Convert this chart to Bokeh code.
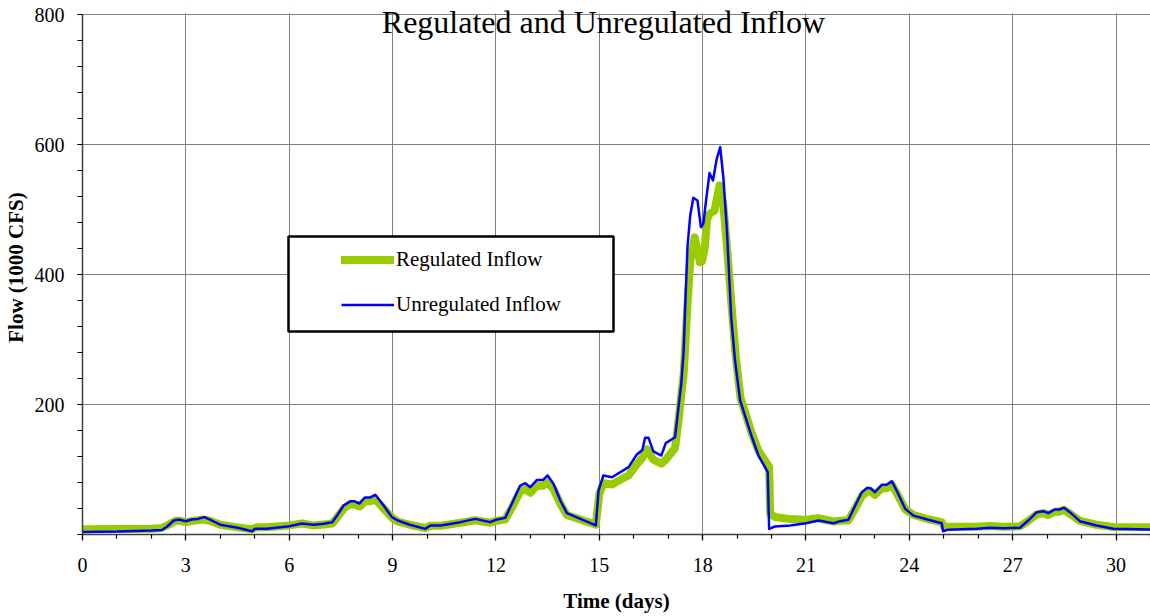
from bokeh.plotting import figure
from bokeh.models import (ColumnDataSource, Range1d, FixedTicker, Legend, LegendItem,
                          BoxAnnotation, Label)
from bokeh.embed import file_html
from bokeh.resources import INLINE

# ---- data (days, 1000 CFS) ----
reg_days = [0.0, 1.0, 2.0, 2.3, 2.5, 2.7, 2.85, 3.0, 3.2, 3.5, 3.7, 4.0, 4.5, 4.92, 5.05, 5.35,
            6.0, 6.37, 6.7, 7.0, 7.25, 7.4, 7.6, 7.77, 7.9, 8.04, 8.2, 8.35, 8.5, 8.74, 9.0,
            9.15, 9.5, 9.95, 10.1, 10.4, 10.97, 11.4, 11.83, 12.0, 12.27, 12.46, 12.7, 12.85,
            13.0, 13.19, 13.37, 13.5, 13.67, 13.87, 14.06, 14.45, 14.9, 15.0, 15.12, 15.37,
            15.85, 16.09, 16.25, 16.38, 16.57, 16.8, 16.93, 17.2, 17.3, 17.38, 17.45, 17.55,
            17.64, 17.77, 17.92, 17.98, 18.06, 18.13, 18.2, 18.34, 18.49, 18.6, 18.7, 18.85,
            18.96, 19.1, 19.25, 19.43, 19.62, 19.93, 19.96, 20.1, 20.5, 21.0, 21.36, 21.8,
            22.0, 22.23, 22.43, 22.62, 22.78, 22.9, 23.0, 23.2, 23.34, 23.49, 23.63, 23.88,
            24.12, 24.55, 24.94, 25.0, 25.96, 26.34, 26.73, 27.21, 27.45, 27.7, 27.89, 28.03,
            28.23, 28.35, 28.49, 28.66, 28.95, 29.43, 29.92, 31.0]
reg_flow = [8, 8.5, 9, 10, 15, 21, 21, 19, 21, 23, 21, 15, 11, 8, 11, 11,
            14, 17, 14, 15.5, 17, 27, 41, 46, 46, 43, 51, 51, 54, 40, 25,
            20, 15, 10, 13.5, 13.5, 18, 22, 18, 21, 23, 41, 66, 70,
            64, 75, 75, 80, 70, 47, 30, 23, 15, 62, 79, 77,
            91, 108, 118, 131, 115, 109, 115, 133, 175, 215, 247, 345,
            421, 457, 419, 420, 440, 485, 493, 498, 537, 508, 447, 345,
            275, 210, 185, 155, 129, 104, 32, 27, 24, 22.6, 25, 20,
            21, 22, 40, 59, 66, 66, 61, 71, 71, 77, 64, 39,
            30, 23.5, 19, 12.3, 12, 13, 12, 12.5, 21, 31, 33, 30,
            35, 35, 38, 32, 21, 15, 11.5, 11]

unreg_days = [0.0, 0.5, 1.0, 1.5, 2.0, 2.3, 2.45, 2.65, 2.8, 3.0, 3.17, 3.35, 3.54, 3.7, 4.0,
              4.5, 4.92, 5.0, 5.35, 6.0, 6.37, 6.7, 7.0, 7.25, 7.4, 7.58, 7.77, 7.9, 8.04,
              8.2, 8.35, 8.5, 8.74, 8.98, 9.15, 9.5, 9.95, 10.1, 10.4, 10.97, 11.4, 11.83,
              12.0, 12.27, 12.46, 12.7, 12.85, 13.0, 13.19, 13.37, 13.5, 13.67, 13.87, 14.06,
              14.45, 14.9, 14.98, 15.12, 15.37, 15.85, 16.09, 16.25, 16.33, 16.43, 16.57,
              16.8, 16.93, 17.2, 17.3, 17.38, 17.45, 17.49, 17.56, 17.64, 17.73, 17.85, 17.95,
              18.02, 18.1, 18.2, 18.3, 18.41, 18.51, 18.6, 18.7, 18.83, 18.94, 19.09, 19.23,
              19.43, 19.62, 19.89, 19.93, 20.1, 20.54, 21.0, 21.36, 21.8, 21.99, 22.23, 22.43,
              22.62, 22.78, 22.88, 23.0, 23.2, 23.34, 23.49, 23.63, 23.88, 24.12, 24.55, 24.94,
              24.98, 25.1, 25.96, 26.34, 26.73, 27.21, 27.45, 27.7, 27.89, 28.03, 28.23, 28.35,
              28.49, 28.66, 28.95, 29.43, 29.92, 31.0]
unreg_flow = [4, 4.3, 4.6, 5.5, 6, 7, 12, 21.5, 23, 20.5, 23, 24, 26.7, 23, 15,
              10.3, 5, 8.7, 9, 12.8, 17, 15, 16.4, 19, 30, 44.6, 51, 51, 47.7,
              57, 57, 61, 44.6, 26.7, 21.5, 15, 8.7, 13.8, 13.8, 19, 24, 19,
              22.6, 25.6, 47, 75, 79, 72.8, 84, 84, 90.8, 78, 52.3, 32.8,
              24, 14, 67.7, 90.8, 88, 103.6, 123, 130, 148.7, 148.7, 128,
              121.5, 140.5, 149.7, 196, 232, 283, 344.6, 442, 490.8, 518, 513.8, 472.8,
              478, 514, 556, 544.6, 578, 596, 550, 473, 334, 267.7, 206, 183,
              149.7, 121.5, 95.9, 8.7, 12.3, 13.8, 17.4, 21.5, 17.4, 20.5, 22.6, 44.6,
              65, 71.8, 71, 65, 76.4, 76.4, 82, 67.7, 39.5, 29, 22.6, 17.4,
              5, 7.2, 8.7, 10.3, 9.5, 10.3, 21.5, 34.4, 35.9, 32.8, 38.5, 38.5,
              41, 34.4, 20.5, 13.8, 8.7, 7.5]

x_major = [0, 3, 6, 9, 12, 15, 18, 21, 24, 27, 30]
x_minor = list(range(0, 32))
y_major = [0, 200, 400, 600, 800]
y_minor = list(range(0, 801, 40))
Y_MAX = 800

SERIF = "Liberation Serif"

# the frame reaches to the canvas top so that the title (which overlaps the
# top of the plot area in the reference) is not clipped; the area above 800 is masked
FRAME_H = 616 - 82
y_top = Y_MAX + 14 * Y_MAX / (FRAME_H - 14)

p = figure(width=1150, height=616, output_backend="svg", toolbar_location=None,
           x_range=Range1d(0, 31), y_range=Range1d(0, y_top),
           min_border_left=82, min_border_right=0, min_border_top=0, min_border_bottom=82)
p.outline_line_color = None
p.background_fill_color = "white"

reg_src = ColumnDataSource(dict(x=reg_days, y=reg_flow))
unreg_src = ColumnDataSource(dict(x=unreg_days, y=unreg_flow))

g = p.line("x", "y", source=reg_src, line_color="#99CC00", line_width=8,
           line_join="round", line_cap="round")
b = p.line("x", "y", source=unreg_src, line_color="#0000FF", line_width=2.5,
           line_join="round")

# axes
p.xaxis.ticker = FixedTicker(ticks=x_major, minor_ticks=x_minor)
p.yaxis.ticker = FixedTicker(ticks=y_major, minor_ticks=y_minor)
p.yaxis.bounds = (0, Y_MAX)
p.yaxis.major_label_overrides = {0: ""}
for ax in (p.xaxis[0], p.yaxis[0]):
    ax.axis_line_color = "#404040"
    ax.axis_line_width = 1.5
    ax.major_tick_line_color = "black"
    ax.minor_tick_line_color = "black"
    ax.major_tick_line_width = 1.2
    ax.minor_tick_line_width = 1.2
    ax.major_tick_in = 0
    ax.minor_tick_in = 0
    ax.major_label_text_font = SERIF
    ax.major_label_text_font_size = "20px"
    ax.major_label_text_color = "black"
    ax.axis_label_text_font = SERIF
    ax.axis_label_text_font_size = "21px"
    ax.axis_label_text_font_style = "bold"
    ax.axis_label_text_color = "black"

p.xaxis.major_tick_out = 6
p.xaxis.minor_tick_out = 4
p.xaxis.major_label_standoff = 17
p.xaxis.axis_label = "Time (days)"
p.xaxis.axis_label_standoff = 14

p.yaxis.major_tick_out = 5
p.yaxis.minor_tick_out = 5
p.yaxis.major_label_standoff = 13
p.yaxis.axis_label = "Flow (1000 CFS)"
p.yaxis.axis_label_standoff = 4

# grid
p.xgrid.ticker = FixedTicker(ticks=x_major)
p.ygrid.ticker = FixedTicker(ticks=y_major)
for gr in (p.xgrid[0], p.ygrid[0]):
    gr.grid_line_color = "#808080"
    gr.grid_line_width = 1

# white mask above the 800 line (hides the grid lines there)
mask = BoxAnnotation(bottom=Y_MAX + 1.6, fill_color="white", fill_alpha=1.0,
                     line_alpha=0)
p.add_layout(mask)

# title
title = Label(x=521, y=513, x_units="screen", y_units="screen",
              text="Regulated and Unregulated Inflow", text_align="center",
              text_baseline="alphabetic", text_font=SERIF, text_font_size="32px",
              text_color="black")
p.add_layout(title)

# legend box + legend
box = BoxAnnotation(left=206, right=531, top=298, bottom=203,
                    left_units="screen", right_units="screen",
                    top_units="screen", bottom_units="screen",
                    fill_color="white", fill_alpha=1.0,
                    line_color="black", line_alpha=1.0, line_width=2.5)
p.add_layout(box)

legend = Legend(items=[LegendItem(label="Regulated Inflow", renderers=[g]),
                       LegendItem(label="Unregulated Inflow", renderers=[b])],
                location=(259, 217), glyph_width=53, glyph_height=25, label_height=25,
                spacing=20, padding=0, margin=0, label_standoff=2,
                border_line_color=None, background_fill_alpha=0,
                label_text_font=SERIF, label_text_font_size="21px",
                label_text_color="black")
p.add_layout(legend)

open("out.html", "w").write(file_html(p, INLINE))
